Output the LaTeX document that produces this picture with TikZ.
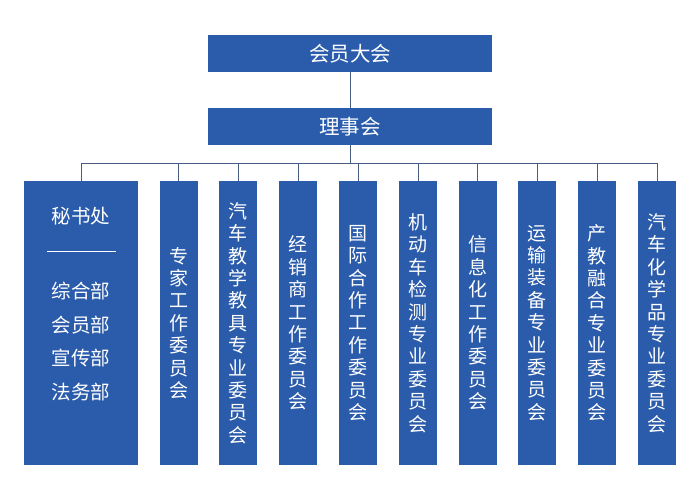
\documentclass[tikz,border=0pt]{standalone}
\usepackage{fontspec}
\setmainfont{Noto Sans CJK SC}
\usetikzlibrary{positioning}

\definecolor{boxblue}{RGB}{43,92,171}
\definecolor{linegray}{RGB}{72,92,128}

\tikzset{
  topbox/.style={fill=boxblue, text=white, inner sep=0pt,
    minimum width=284pt, minimum height=37pt, font=\fontsize{20.5}{24}\selectfont},
  orgbox/.style={fill=boxblue, text=white, inner sep=0pt, align=center,
    minimum width=38pt, minimum height=284pt, font=\fontsize{19}{22.4}\selectfont},
  link/.style={draw=linegray, line width=0.8pt}
}

\begin{document}
\begin{tikzpicture}[x=1pt, y=-1pt]
    % Canvas
    \useasboundingbox (0,0) rectangle (700,500);

    % Top levels
    \node[topbox] (huiyuan) at (350,53.5) {会员大会};
    \node[topbox] (lishi) at (350,126.5) {理事会};

    % Secretariat
    \node[orgbox, minimum width=114pt] (mishu) at (81,323) {};
    \node[text=white, font=\fontsize{19.5}{24}\selectfont] (mishutitle) at (81,216) {秘书处};
    \draw[white, line width=0.8pt] (47,251) -- (115.7,251);
    \node[text=white, align=center, font=\fontsize{19.5}{33.8}\selectfont] (mishudept) at (81,341.5)
      {综合部\\会员部\\宣传部\\法务部};

    % Committees
    \node[orgbox] (zhuanjia) at (178.5,323) {专\\家\\工\\作\\委\\员\\会};
    \node[orgbox] (jiaoju) at (238,323) {汽\\车\\教\\学\\教\\具\\专\\业\\委\\员\\会};
    \node[orgbox] (jingxiao) at (298,323) {经\\销\\商\\工\\作\\委\\员\\会};
    \node[orgbox] (guoji) at (358,323) {国\\际\\合\\作\\工\\作\\委\\员\\会};
    \node[orgbox] (jiance) at (418,323) {机\\动\\车\\检\\测\\专\\业\\委\\员\\会};
    \node[orgbox] (xinxi) at (477.5,323) {信\\息\\化\\工\\作\\委\\员\\会};
    \node[orgbox] (yunshu) at (537,323) {运\\输\\装\\备\\专\\业\\委\\员\\会};
    \node[orgbox] (chanjiao) at (597,323) {产\\教\\融\\合\\专\\业\\委\\员\\会};
    \node[orgbox] (huaxue) at (657,323) {汽\\车\\化\\学\\品\\专\\业\\委\\员\\会};

    % Connectors
    \draw[link] (huiyuan) -- (lishi);
    \foreach \c in {mishu,zhuanjia,jiaoju,jingxiao,guoji,jiance,xinxi,yunshu,chanjiao,huaxue}
      \draw[link] (lishi.south) -- ++(0,18) -| (\c.north);
\end{tikzpicture}
\end{document}
